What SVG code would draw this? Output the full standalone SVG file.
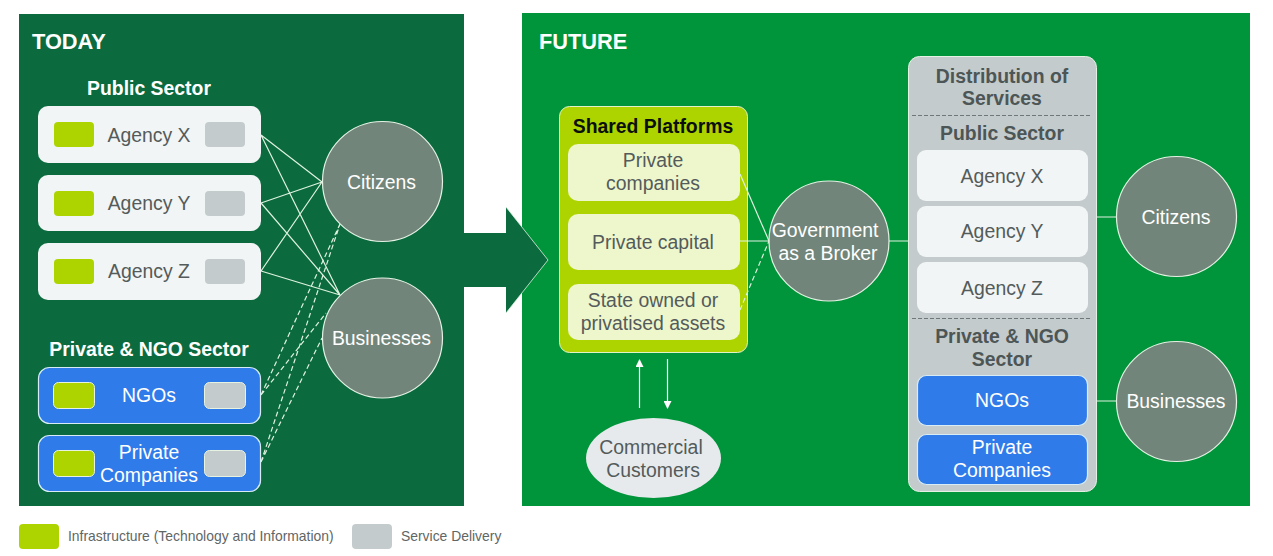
<svg xmlns="http://www.w3.org/2000/svg" width="1273" height="556" viewBox="0 0 1273 556">
<style>
text{font-family:"Liberation Sans",Arial,sans-serif;text-anchor:middle}
.t{font-size:19.400px;fill:#fff}
.h{font-size:21.800px;font-weight:bold;fill:#fff;text-anchor:start}
.b{font-size:19.400px;font-weight:bold;fill:#fff}
.bd{font-size:19.400px;font-weight:bold;fill:#4d5656}
.d{font-size:19.400px;fill:#545b5b}
.l{font-size:13.900px;fill:#5f6666;text-anchor:start}
.c{fill:#72857a;stroke:#e4f2e4;stroke-width:1.2}
.w{fill:#f2f5f5}
.g{fill:#aed400}
.s{fill:#c4cbcc}
.bl{fill:#2f7bea;stroke:#d8ecf5;stroke-width:1.2}
.p{fill:#eef6cb}
.ln{stroke:#dff2df;stroke-width:1.2;fill:none}
.ds{stroke-dasharray:5 3}
.sep{stroke:#6f7878;stroke-width:1;stroke-dasharray:4 2;fill:none}
.ar{stroke:#fff;stroke-width:1.2;fill:none}
</style>
<defs>
<marker id="ah" markerWidth="8" markerHeight="8" refX="7" refY="4" orient="auto" markerUnits="userSpaceOnUse"><path d="M0 0L8 4L0 8Z" fill="#fff"/></marker>
</defs>
<rect width="1273" height="556" fill="#fff"/>
<rect id="panel-today" x="19" y="14" width="445" height="492" fill="#0b6b3f"/>
<rect id="panel-future" x="522" y="13" width="728" height="493" fill="#00953a"/>
<text class="h" x="32" y="49">TODAY</text>
<text class="h" x="539" y="49">FUTURE</text>
<path id="big-arrow" d="M464 233H506V207L548 260L506 313V287H464Z" fill="#0b6b3f"/>
<path d="M506 207L548 260L506 313" fill="none" stroke="#dff2df" stroke-width="0.8"/>

<text class="b" x="149" y="95">Public Sector</text>
<g id="today-agency-x"><rect class="w" x="38" y="106" width="223" height="57" rx="10"/><rect class="g" x="54" y="122" width="40" height="25" rx="4"/><rect class="s" x="205" y="122" width="40" height="25" rx="4"/><text class="d" x="149" y="142">Agency X</text></g>
<g id="today-agency-y"><rect class="w" x="38" y="175" width="223" height="56" rx="10"/><rect class="g" x="54" y="191" width="40" height="25" rx="4"/><rect class="s" x="205" y="191" width="40" height="25" rx="4"/><text class="d" x="149" y="210">Agency Y</text></g>
<g id="today-agency-z"><rect class="w" x="38" y="243" width="223" height="57" rx="10"/><rect class="g" x="54" y="259" width="40" height="25" rx="4"/><rect class="s" x="205" y="259" width="40" height="25" rx="4"/><text class="d" x="149" y="278">Agency Z</text></g>
<text class="b" x="149" y="356">Private &amp; NGO Sector</text>
<g id="today-ngos"><rect class="bl" x="38.500" y="367.500" width="222" height="56" rx="11"/><rect class="g" x="53.500" y="382.500" width="41" height="26" rx="5" stroke="#e8f2e0"/><rect class="s" x="204.500" y="382.500" width="41" height="26" rx="5" stroke="#e8f2e0"/><text class="t" x="149" y="402">NGOs</text></g>
<g id="today-private"><rect class="bl" x="38.500" y="435.500" width="222" height="56" rx="11"/><rect class="g" x="53.500" y="450.500" width="41" height="26" rx="5" stroke="#e8f2e0"/><rect class="s" x="204.500" y="450.500" width="41" height="26" rx="5" stroke="#e8f2e0"/><text class="t" x="149" y="459">Private</text><text class="t" x="149" y="482">Companies</text></g>
<g id="today-citizens"><circle class="c" cx="382.500" cy="181.500" r="60"/><text class="t" x="381.500" y="189">Citizens</text></g>
<g id="today-businesses"><circle class="c" cx="382.500" cy="338" r="60"/><text class="t" x="381.500" y="345">Businesses</text></g>

<g id="shared-platforms"><rect class="g" x="559.500" y="106.500" width="188" height="246" rx="10" stroke="#e4f2c8" stroke-width="1"/><text x="653" y="133" font-size="19.400" font-weight="bold" fill="#0a0f0a">Shared Platforms</text></g>
<g id="sp-private-companies"><rect class="p" x="568" y="144" width="172" height="57" rx="10"/><text class="d" x="653" y="167">Private</text><text class="d" x="653" y="190">companies</text></g>
<g id="sp-private-capital"><rect class="p" x="568" y="214" width="172" height="56" rx="10"/><text class="d" x="653" y="249">Private capital</text></g>
<g id="sp-state"><rect class="p" x="568" y="284" width="172" height="56" rx="10"/><text class="d" x="653" y="307">State owned or</text><text class="d" x="653" y="330">privatised assets</text></g>
<g id="commercial-customers"><ellipse cx="653.500" cy="458" rx="67.500" ry="40" fill="#e6eaec"/><text class="d" x="651" y="454">Commercial</text><text class="d" x="653" y="477">Customers</text></g>
<g id="government-broker"><circle class="c" cx="829" cy="241" r="60"/><text class="t" x="825" y="237">Government</text><text class="t" x="828" y="260">as a Broker</text></g>

<g id="distribution"><rect x="908.500" y="56.500" width="188" height="435" rx="11" fill="#c4cbcc" stroke="#e4f2e4" stroke-width="1"/><text class="bd" x="1002" y="83">Distribution of</text><text class="bd" x="1002" y="105">Services</text><path class="sep" d="M912 115.500H1092M912 318.500H1092"/><text class="bd" x="1002" y="140">Public Sector</text><text class="bd" x="1002" y="343">Private &amp; NGO</text><text class="bd" x="1002" y="366">Sector</text></g>
<g id="future-agency-x"><rect class="w" x="917" y="150" width="171" height="51" rx="9"/><text class="d" x="1002" y="183">Agency X</text></g>
<g id="future-agency-y"><rect class="w" x="917" y="206" width="171" height="51" rx="9"/><text class="d" x="1002" y="238">Agency Y</text></g>
<g id="future-agency-z"><rect class="w" x="917" y="262" width="171" height="51" rx="9"/><text class="d" x="1002" y="295">Agency Z</text></g>
<g id="future-ngos"><rect class="bl" x="917.500" y="375.500" width="170" height="50" rx="9"/><text class="t" x="1002" y="407">NGOs</text></g>
<g id="future-private"><rect class="bl" x="917.500" y="434.500" width="170" height="50" rx="9"/><text class="t" x="1002" y="454">Private</text><text class="t" x="1002" y="477">Companies</text></g>
<g id="future-citizens"><circle class="c" cx="1176.500" cy="216.500" r="60"/><text class="t" x="1176" y="224">Citizens</text></g>
<g id="future-businesses"><circle class="c" cx="1176.500" cy="401.500" r="60"/><text class="t" x="1176" y="408">Businesses</text></g>

<g id="connectors">
<path class="ln" d="M261 135L322 182M261 135L340 295M261 203L322 182M261 203L340 295M261 271L322 182M261 271L340 295"/>
<path class="ln ds" d="M261 395L340 224M261 395L326 313M261 462L340 224M261 462L322 338"/>
<path class="ln" d="M740 174L769 241M740 241H769M889 241H908M1097 217H1116M1097 401H1116"/>
<path class="ln ds" d="M740 310L769 241"/>
<path class="ar" d="M639.500 408V360" marker-end="url(#ah)"/>
<path class="ar" d="M667.500 359V408" marker-end="url(#ah)"/>
</g>

<g id="legend"><rect class="g" x="19" y="524" width="40" height="25" rx="4"/><text class="l" x="68" y="541">Infrastructure (Technology and Information)</text><rect class="s" x="352" y="524" width="40" height="25" rx="4"/><text class="l" x="401" y="541">Service Delivery</text></g>
</svg>
